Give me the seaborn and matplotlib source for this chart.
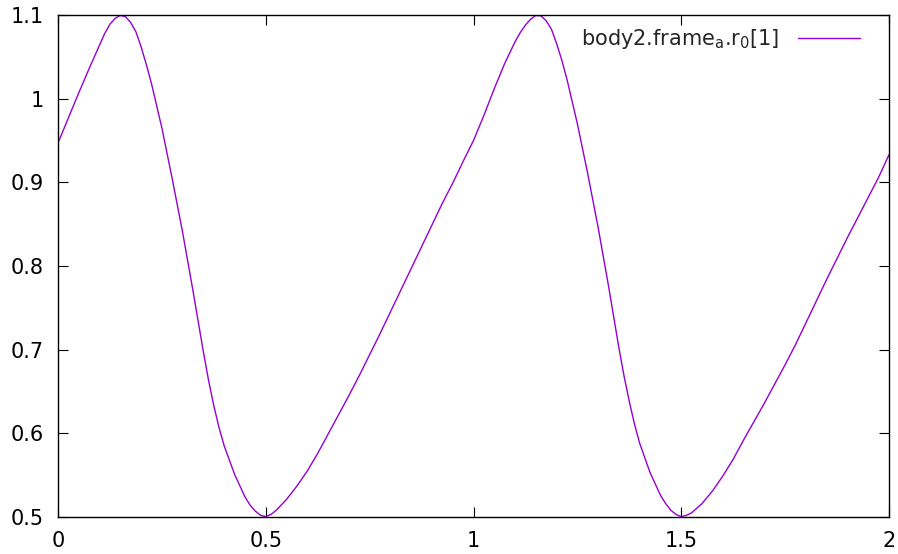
import matplotlib
matplotlib.use('Agg')
import matplotlib.pyplot as plt
import seaborn as sns
import pandas as pd
from matplotlib.ticker import FixedLocator, FuncFormatter

# valores (tempo, posicao)
tempo = [0.000, 0.025, 0.050, 0.075, 0.100, 0.1125, 0.125, 0.1375, 0.150, 0.1625,
         0.175, 0.1875, 0.200, 0.2125, 0.225, 0.250, 0.275, 0.300, 0.325, 0.350,
         0.3625, 0.375, 0.3875, 0.400, 0.425, 0.450, 0.4625, 0.475, 0.4875, 0.500,
         0.5125, 0.525, 0.550, 0.575, 0.600, 0.625, 0.650, 0.675, 0.700, 0.725,
         0.750, 0.775, 0.800, 0.825, 0.850, 0.875, 0.900, 0.925, 0.950, 0.975,
         1.000, 1.025, 1.050, 1.075, 1.100, 1.1125, 1.125, 1.1375, 1.150, 1.1625,
         1.175, 1.1875, 1.200, 1.2125, 1.225, 1.250, 1.275, 1.300, 1.325, 1.350,
         1.3625, 1.375, 1.3875, 1.400, 1.425, 1.450, 1.4625, 1.475, 1.4875, 1.500,
         1.5125, 1.525, 1.550, 1.575, 1.600, 1.625, 1.650, 1.675, 1.700, 1.725,
         1.750, 1.775, 1.800, 1.825, 1.850, 1.875, 1.900, 1.925, 1.950, 1.975,
         2.000]
posicao = [0.947, 0.977, 1.007, 1.036, 1.064, 1.078, 1.089, 1.096, 1.0995, 1.098,
           1.091, 1.080, 1.062, 1.041, 1.018, 0.965, 0.904, 0.840, 0.770, 0.697,
           0.663, 0.633, 0.607, 0.585, 0.551, 0.524, 0.514, 0.507, 0.502, 0.5005,
           0.503, 0.508, 0.521, 0.537, 0.555, 0.576, 0.599, 0.622, 0.645, 0.669,
           0.694, 0.719, 0.745, 0.771, 0.797, 0.823, 0.849, 0.875, 0.899, 0.925,
           0.950, 0.980, 1.012, 1.042, 1.068, 1.079, 1.088, 1.095, 1.0995, 1.099,
           1.093, 1.083, 1.066, 1.046, 1.023, 0.970, 0.910, 0.846, 0.776, 0.702,
           0.668, 0.638, 0.611, 0.588, 0.553, 0.526, 0.516, 0.508, 0.503, 0.5005,
           0.502, 0.505, 0.516, 0.531, 0.549, 0.569, 0.592, 0.614, 0.636, 0.659,
           0.682, 0.706, 0.732, 0.758, 0.784, 0.809, 0.834, 0.858, 0.882, 0.906,
           0.933]

xticks = [0, 0.5, 1, 1.5, 2]
yticks = [0.5, 0.6, 0.7, 0.8, 0.9, 1.0, 1.1]
rotulo = r'body2.frame$_\mathregular{a}$.r$_\mathregular{0}$[1]'

df = pd.DataFrame({'t': tempo, 'r': posicao})

sns.set_theme(style='ticks')
plt.rcParams['font.family'] = ['DejaVu Sans']
plt.rcParams['font.size'] = 15
plt.rcParams['xtick.direction'] = 'in'
plt.rcParams['ytick.direction'] = 'in'
plt.rcParams['mathtext.fontset'] = 'dejavusans'

fig = plt.figure(figsize=(8.98, 5.54), dpi=100)
ax = fig.add_axes([58 / 898, 37 / 554, 831 / 898, 502 / 554])

sns.lineplot(data=df, x='t', y='r', ax=ax, color='#9400D3', linewidth=1.0,
             label=rotulo, sort=False)

ax.set_xlim(0, 2)
ax.set_ylim(0.5, 1.1)
ax.xaxis.set_major_locator(FixedLocator(xticks))
ax.yaxis.set_major_locator(FixedLocator(yticks))
fmt = FuncFormatter(lambda v, p: '%g' % v)
ax.xaxis.set_major_formatter(fmt)
ax.yaxis.set_major_formatter(fmt)
ax.tick_params(axis='both', which='both', direction='in', length=7, width=0.8,
               color='black', labelsize=15, labelcolor='black',
               top=True, right=True)
ax.tick_params(axis='x', pad=10)
ax.tick_params(axis='y', pad=10)
ax.set_xlabel('')
ax.set_ylabel('')
for s in ax.spines.values():
    s.set_visible(True)
    s.set_color('black')
    s.set_linewidth(1.0)

ax.legend(loc='upper right', frameon=False, markerfirst=False, handlelength=3.0,
          handletextpad=0.9, fontsize=15, bbox_to_anchor=(0.983, 1.005),
          borderaxespad=0.3)

fig.savefig('out.png', dpi=100, facecolor='white')
